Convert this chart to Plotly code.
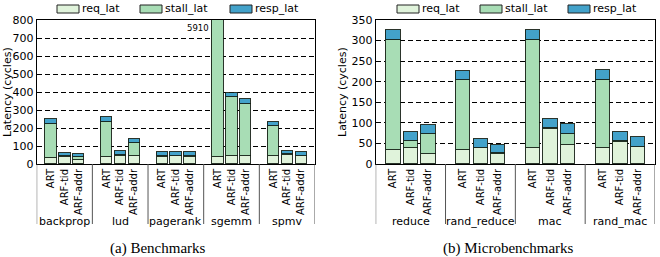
import plotly.graph_objects as go

# ---------------- data ----------------
configs = ["ART", "ARF-tid", "ARF-addr"]
series_names = ["req_lat", "stall_lat", "resp_lat"]

bench_groups = ["backprop", "lud", "pagerank", "sgemm", "spmv"]
bench_req = [[35, 38, 25], [38, 42, 44], [38, 42, 38], [40, 46, 44], [42, 48, 42]]
bench_stall = [[187, 5, 14], [194, 10, 70], [4, 4, 4], [5850, 324, 289], [168, 5, 5]]
bench_resp = [[28, 20, 18], [28, 18, 24], [23, 22, 22], [20, 27, 27], [22, 19, 20]]

micro_groups = ["reduce", "rand_reduce", "mac", "rand_mac"]
micro_req = [[33, 40, 25], [33, 38, 25], [40, 84, 46], [40, 54, 41]]
micro_stall = [[268, 15, 47], [170, 1, 1], [262, 4, 27], [163, 1, 1]]
micro_resp = [[24, 22, 22], [23, 22, 21], [24, 21, 25], [25, 22, 23]]

bench_yticks = list(range(0, 801, 100))
micro_yticks = list(range(0, 351, 50))

captions = ["(a) Benchmarks", "(b) Microbenchmarks"]

# ---------------- style ----------------
W, H = 660, 257
colors = ["#e0f3db", "#a8ddb5", "#43a2ca"]
FONT = "DejaVu Sans"
GROUP_SPAN = 4
BAR_W = 0.82


def py(px):  # pixel row -> paper y
    return (H - px) / H


def px_x(px):
    return px / W


panels = [
    dict(groups=bench_groups, data=[bench_req, bench_stall, bench_resp], ymax=800,
         yticks=bench_yticks, xdom=[px_x(36.7), px_x(315)], xa="x", ya="y",
         legend_boxes=[57, 140, 230], ytitle_x=8, caption_x=158),
    dict(groups=micro_groups, data=[micro_req, micro_stall, micro_resp], ymax=350,
         yticks=micro_yticks, xdom=[px_x(375.7), px_x(655)], xa="x2", ya="y2",
         legend_boxes=[397, 480, 568], ytitle_x=343, caption_x=508),
]

plot_top, plot_bot = 20, 164
ydom = [py(plot_bot), py(plot_top)]

fig = go.Figure()
shapes = []
annotations = []

for p_i, p in enumerate(panels):
    groups = p["groups"]
    xs, ticktext = [], []
    for g, _ in enumerate(groups):
        for i, c in enumerate(configs):
            xs.append(GROUP_SPAN * g + i + 1)
            ticktext.append(c)
    for s_i, name in enumerate(series_names):
        vals = [v for grp in p["data"][s_i] for v in grp]
        fig.add_trace(go.Bar(
            x=xs, y=vals, name=name, width=BAR_W,
            marker=dict(color=colors[s_i], line=dict(color="rgba(20,30,20,0.9)", width=1)),
            xaxis=p["xa"], yaxis=p["ya"], showlegend=False,
        ))
    ngroups = len(groups)
    xr = [0, GROUP_SPAN * ngroups]
    axkey = "xaxis" if p_i == 0 else "xaxis2"
    aykey = "yaxis" if p_i == 0 else "yaxis2"
    fig.update_layout(**{
        axkey: dict(domain=p["xdom"], range=xr, tickvals=xs, ticktext=ticktext,
                    tickangle=-90, tickfont=dict(family=FONT, size=10, color="black"),
                    showline=True, mirror=True, linecolor="black", linewidth=1,
                    showgrid=False, zeroline=False, ticks="", anchor=p["ya"],
                    fixedrange=True, automargin=False),
        aykey: dict(domain=ydom, range=[0, p["ymax"]], tickvals=p["yticks"],
                    tickfont=dict(family=FONT, size=11, color="black"),
                    showline=True, mirror=True, linecolor="black", linewidth=1,
                    showgrid=True, gridcolor="black", gridwidth=0.8, griddash="5px,3px",
                    zeroline=False, ticks="", anchor=p["xa"], fixedrange=True,
                    automargin=False),
    })
    # group separators below the axis
    xref = p["xa"]
    for b in range(ngroups + 1):
        shapes.append(dict(type="line", xref=xref, yref="paper",
                           x0=GROUP_SPAN * b, x1=GROUP_SPAN * b,
                           y0=py(224), y1=py(plot_bot),
                           line=dict(color="#555", width=1)))
    for g, name in enumerate(groups):
        annotations.append(dict(x=GROUP_SPAN * g + 2, y=py(219), xref=xref, yref="paper",
                                text=name, showarrow=False, xanchor="center", yanchor="middle",
                                yshift=-2,
                                font=dict(family=FONT, size=11, color="black")))
    # legend drawn manually
    for s_i, name in enumerate(series_names):
        x0 = p["legend_boxes"][s_i]
        shapes.append(dict(type="rect", xref="paper", yref="paper",
                           x0=px_x(x0), x1=px_x(x0 + 22), y0=py(13), y1=py(5),
                           fillcolor=colors[s_i], line=dict(color="#222", width=1)))
        annotations.append(dict(x=px_x(x0 + 23), y=py(9), xref="paper", yref="paper",
                                text=name, showarrow=False, xanchor="left", yanchor="middle",
                                font=dict(family=FONT, size=11, color="black")))
    # y title
    annotations.append(dict(x=px_x(p["ytitle_x"]), y=py((plot_top + plot_bot) / 2),
                            xref="paper", yref="paper", text="Latency (cycles)",
                            textangle=-90, showarrow=False, xanchor="center", yanchor="middle",
                            font=dict(family=FONT, size=11, color="black")))
    # caption
    annotations.append(dict(x=px_x(p["caption_x"]), y=py(245), xref="paper", yref="paper",
                            text=captions[p_i], showarrow=False, xanchor="center",
                            yanchor="middle", yshift=-4,
                            font=dict(family="Liberation Serif", size=15, color="black")))

# label for the clipped bar (sgemm ART)
g_idx = bench_groups.index("sgemm")
clip_total = bench_req[g_idx][0] + bench_stall[g_idx][0] + bench_resp[g_idx][0]
annotations.append(dict(x=GROUP_SPAN * g_idx + 1 - BAR_W / 2, y=800, xref="x", yref="y",
                        text=str(clip_total), showarrow=False, xanchor="right", yanchor="top",
                        xshift=-1, yshift=-1,
                        font=dict(family=FONT, size=8.5, color="black")))

fig.update_layout(
    width=W, height=H, margin=dict(l=0, r=0, t=0, b=0),
    barmode="stack", bargap=0, plot_bgcolor="white", paper_bgcolor="white",
    shapes=shapes, annotations=annotations, showlegend=False,
)

fig.write_html("out.html", config=dict(displayModeBar=False))
